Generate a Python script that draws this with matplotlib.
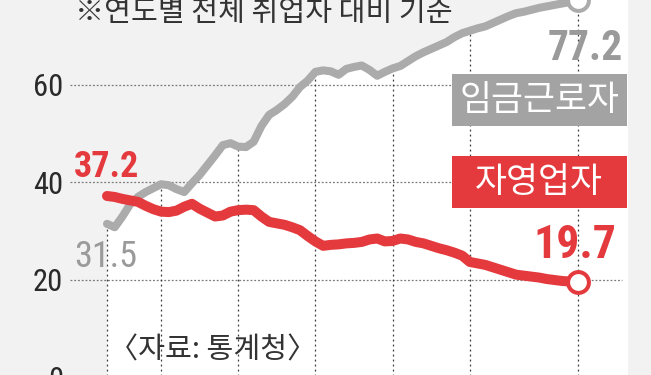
import numpy as np
import matplotlib
matplotlib.use("Agg")
import matplotlib.pyplot as plt
from matplotlib import font_manager
from matplotlib.font_manager import FontProperties
from matplotlib.patches import Rectangle

# ---------------- data (share of total employed, %) ----------------
years = list(range(1963, 2025))
wage = [31.5, 30.8, 33.0, 35.5, 37.0, 38.0, 38.8, 39.6, 39.4, 38.6,
        38.0, 39.8, 41.5, 43.5, 45.5, 47.6, 48.0, 47.3, 47.2, 48.3,
        51.5, 53.8, 54.8, 56.0, 57.5, 59.5, 60.8, 62.6, 62.9, 62.7,
        62.0, 63.2, 63.6, 63.9, 63.0, 61.8, 62.6, 63.3, 63.8, 64.8,
        65.8, 66.6, 67.3, 68.0, 68.7, 69.7, 70.5, 71.0, 71.5, 71.9,
        72.6, 73.3, 74.0, 74.6, 74.9, 75.3, 75.7, 76.0, 76.3, 76.6,
        76.9, 77.2]
selfemp = [37.2, 37.0, 36.6, 36.3, 36.0, 35.2, 34.5, 34.0, 33.9, 34.2,
           35.0, 35.6, 34.6, 33.8, 33.0, 33.2, 34.0, 34.3, 34.4, 34.3,
           33.0, 31.9, 31.6, 31.3, 30.8, 30.2, 29.0, 27.9, 27.0, 27.2,
           27.3, 27.5, 27.6, 27.8, 28.3, 28.5, 27.9, 28.0, 28.5, 28.3,
           27.8, 27.5, 27.0, 26.5, 26.1, 25.6, 25.0, 23.7, 23.4, 23.1,
           22.6, 22.1, 21.6, 21.1, 20.9, 20.7, 20.5, 20.2, 20.0, 19.8,
           19.7, 19.7]
grid_years = [1963, 1970, 1980, 1990, 2000, 2010, 2024]
y_ticks = [0, 20, 40, 60, 80]
title_text = "※연도별 전체 취업자 대비 기준"
source_text = "〈자료: 통계청〉"
wage_name = "임금근로자"
self_name = "자영업자"

RED = "#e43a3e"
GRAY = "#ababab"
BG = "#f2f2f3"

# look for a narrow / condensed face for the numbers
all_files = font_manager.findSystemFonts()
def pick(cands):
    for c in cands:
        for f in all_files:
            if f.split("/")[-1].lower().startswith(c.lower()):
                return f
    return None

reg_file = pick(["LiberationSansNarrow-Regular", "RobotoCondensed-Regular",
                 "DejaVuSansCondensed.ttf", "OpenSans_Condensed-Regular",
                 "OpenSansCondensed-Light", "NotoSans-Condensed.ttf",
                 "NotoSans-CondensedRegular"])
bold_file = pick(["LiberationSansNarrow-Bold.", "RobotoCondensed-Bold.",
                  "DejaVuSansCondensed-Bold.", "OpenSans_Condensed-Bold.",
                  "OpenSansCondensed-Bold.", "NotoSans-CondensedBold."])
if reg_file:
    num_reg = FontProperties(fname=reg_file)
else:
    num_reg = FontProperties(family="Roboto")
if bold_file:
    num_bold = FontProperties(fname=bold_file)
else:
    num_bold = FontProperties(family="Roboto", weight="bold")
kr_font = ["Noto Sans CJK KR", "DejaVu Sans"]

fig = plt.figure(figsize=(6.51, 3.75), dpi=100, facecolor=BG)
ax = fig.add_axes([0, 0, 1, 1])
ax.set_facecolor("none")
ax.set_xlim(1949.14, 2033.47)
ax.set_ylim(0.57, 77.3)
ax.axis("off")

# white area under the wage-worker line
ax.fill_between(years, 0, wage, color="white", lw=0, zorder=0)
ax.axvspan(2024, 2030.5, color="white", lw=0, zorder=0)

# grid
for v in y_ticks:
    ax.hlines(v, 1958.2, 2029.7, colors="#7a7a7a", lw=0.9,
              linestyles=(0, (1.5, 1.5)), zorder=1)
for yr in grid_years:
    ax.vlines(yr, 0, wage[years.index(yr)], colors="#3a3a3a", lw=0.9,
              linestyles=(0, (1.5, 2.5)), zorder=1)
for v in y_ticks:
    t = ax.text(1957.3, v - 2.3, str(v), ha="right", va="baseline",
                color="#2a2a2a", zorder=2, fontproperties=num_reg)
    t.set_fontsize(22)

# lines
ax.plot(years, wage, color=GRAY, lw=5.8, solid_capstyle="round",
        solid_joinstyle="round", zorder=3)
ax.plot(years, selfemp, color=RED, lw=7.2, solid_capstyle="round",
        solid_joinstyle="round", zorder=3)
ax.plot(years[-1], wage[-1], "o", ms=15, mfc="white", mec=GRAY, mew=2.9, zorder=4)
ax.plot(years[-1], selfemp[-1], "o", ms=15, mfc="white", mec=RED, mew=2.9, zorder=4)

# value labels
labels = [
    (1962.9, 41.1, f"{selfemp[0]}", 26, num_bold, RED),
    (1962.9, 22.7, f"{wage[0]}", 26, num_reg, "#9a9a9a"),
    (2024.9, 65.0, f"{wage[-1]}", 30, num_bold, "#9a9a9a"),
    (2023.6, 24.5, f"{selfemp[-1]}", 33, num_bold, RED),
]
for x, y, s, size, fp, col in labels:
    t = ax.text(x, y, s, ha="center", va="baseline", color=col,
                zorder=5, fontproperties=fp)
    t.set_fontsize(size)

# legend boxes
ax.add_patch(Rectangle((2007.7, 51.5), 22.66, 10.6, color="#a3a3a3", lw=0, zorder=5))
ax.text(2019.0, 56.8, wage_name, ha="center", va="center", fontsize=25,
        color="white", family=kr_font, fontweight="medium", zorder=6)
ax.add_patch(Rectangle((2007.7, 34.7), 22.66, 10.6, color=RED, lw=0, zorder=5))
ax.text(2019.0, 40.0, self_name, ha="center", va="center", fontsize=25,
        color="white", family=kr_font, fontweight="medium", zorder=6)

# notes
ax.text(75 / 651, 1 - 21 / 375, title_text, transform=ax.transAxes, ha="left",
        va="baseline", fontsize=21, color="#333333", family=kr_font, zorder=6)
ax.text(109 / 651, 1 - 358 / 375, source_text, transform=ax.transAxes, ha="left",
        va="baseline", fontsize=21, color="#333333", family=kr_font, zorder=6)

fig.savefig("out.png", dpi=100, facecolor=BG)
